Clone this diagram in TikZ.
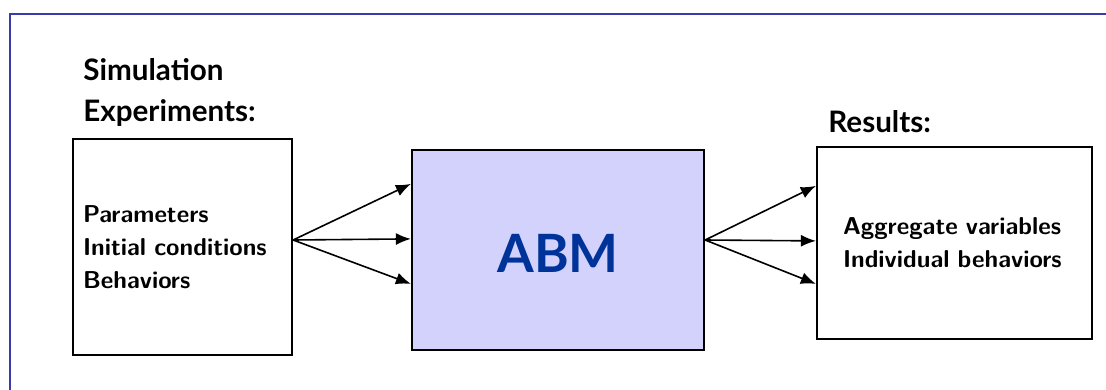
\documentclass[tikz,border=0pt]{standalone}
\usepackage{fontspec}
\newfontfamily\latofont{Lato}
\usetikzlibrary{arrows.meta,calc}
\definecolor{framecol}{RGB}{58,58,172}
\definecolor{abmfill}{RGB}{210,210,253}
\definecolor{abmtext}{RGB}{0,51,153}

\begin{document}
\begin{tikzpicture}[x=0.5pt,y=-0.5pt,>={Latex[length=7.5pt,width=6pt]},
 box/.style={draw,line width=1.1pt,inner sep=0pt,font=\sffamily\bfseries\fontsize{12.2}{16.5}\selectfont},
 head/.style={anchor=north west,inner sep=0pt,align=left,font=\latofont\bfseries\fontsize{14.8}{20.5}\selectfont},
 arr/.style={->,line width=0.8pt}]
\useasboundingbox (0,0) rectangle (1106,390);
\draw[framecol,line width=1pt] (9.5,390) -- (9.5,14) -- (1106,14);
\node[head] (simhead) at (83,58) {Simulation\\Experiments:};
\node[head] (reshead) at (828,110) {Results:};
\node[box,minimum width=109.5pt,minimum height=108pt,text width=99.5pt,align=left] (params) at (182.5,247) {Parameters\\Initial conditions\\Behaviors};
\node[box,fill=abmfill,minimum width=146pt,minimum height=100pt,text height=22pt,text depth=0pt,font=\latofont\bfseries\fontsize{26.4}{30}\selectfont,text=abmtext] (abm) at (558,250) {ABM};
\node[box,minimum width=137.5pt,minimum height=96pt,text width=111.5pt,align=left] (results) at (954.5,243) {Aggregate variables\\Individual behaviors};
\coordinate (insrc) at ($(params.east)+(0,-7)$);
\coordinate (outsrc) at ($(abm.east)+(0,-10)$);
\foreach \dy in {35,90,135}
 \draw[arr] (insrc) -- ($(abm.north west)+(0,\dy)$);
\foreach \dy in {40,95,138}
 \draw[arr] (outsrc) -- ($(results.north west)+(0,\dy)$);
\end{tikzpicture}
\end{document}
